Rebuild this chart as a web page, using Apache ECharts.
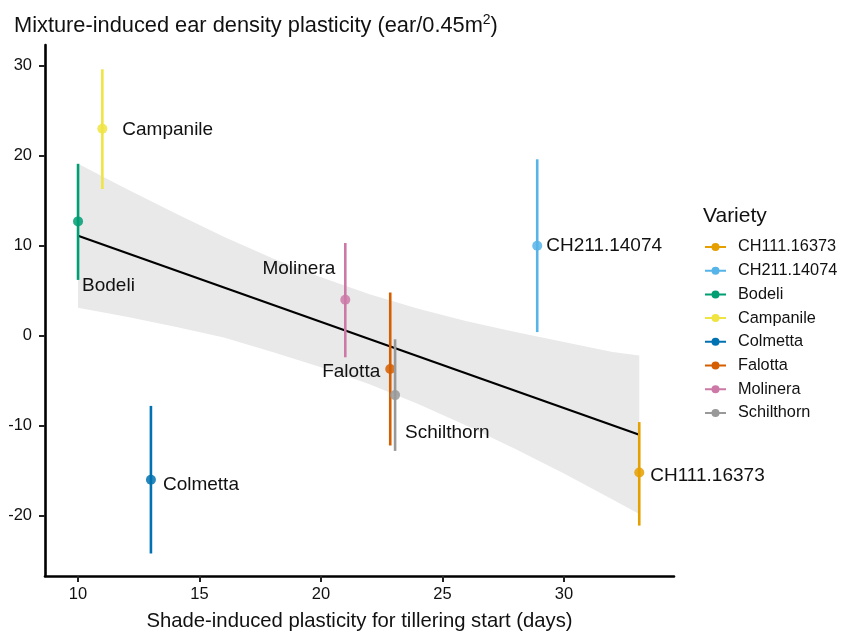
<!DOCTYPE html>
<html>
<head>
<meta charset="utf-8">
<script src="https://cdn.jsdelivr.net/npm/echarts@6/dist/echarts.min.js"></script>
<style>
html,body{margin:0;padding:0;background:#fff;}
#chart{width:851px;height:632px;}
</style>
</head>
<body>
<div id="chart"></div>
<script>
// ---- data ----
const varieties = ['CH111.16373','CH211.14074','Bodeli','Campanile','Colmetta','Falotta','Molinera','Schilthorn'];
const xVals  = [33.1, 28.9, 10.0, 11.0, 13.0, 22.85, 21.0, 23.05];
const yVals  = [-15.2, 10.0, 12.7, 23.0, -16.0, -3.7, 4.0, -6.6];
const yLow   = [-21.1, 0.4, 6.2, 16.3, -24.2, -12.2, -2.4, -12.8];
const yHigh  = [-9.6, 19.6, 19.1, 29.6, -7.8, 4.8, 10.3, -0.4];
const fitX = [10, 33.1];
const fitY = [11.1, -11.0];
const bandX     = [10, 12, 14, 16, 18, 20, 22, 24, 26, 28, 30, 32, 33.1];
const bandUpper = [19.1, 16.3, 13.6, 11.0, 8.6, 6.5, 4.6, 3.0, 1.6, 0.4, -0.7, -1.8, -2.2];
const bandLower = [3.1, 2.1, 1.0, -0.2, -1.8, -3.5, -5.4, -7.6, -10.0, -12.6, -15.3, -18.2, -19.8];
const xTicks = [10, 15, 20, 25, 30];
const yTicks = [-20, -10, 0, 10, 20, 30];

// ---- styles ----
const colors = ['#E69F00','#56B4E9','#009E73','#F0E442','#0072B2','#D55E00','#CC79A7','#999999'];
const labelPos = { // [dx, dy, align]
  'CH111.16373': [11, 3, 'left'],
  'CH211.14074': [9, 0, 'left'],
  'Bodeli': [4, 64, 'left'],
  'Campanile': [20, 1, 'left'],
  'Colmetta': [12, 5, 'left'],
  'Falotta': [-10, 3, 'right'],
  'Molinera': [-10, -31, 'right'],
  'Schilthorn': [10, 38, 'left']
};
const FONT = '"Liberation Sans", Arial, Helvetica, sans-serif';
const iconPath = 'path://M0,3H21V5H0Z M14.5,4A4,4 0 1 1 6.5,4A4,4 0 1 1 14.5,4Z';

const chart = echarts.init(document.getElementById('chart'), null, {renderer:'canvas'});

const series = [];
// confidence band
series.push({
  type: 'custom', name: 'band', silent: true, z: 1,
  data: [[bandX[0], bandUpper[0]]],
  renderItem: function (params, api) {
    const pts = [];
    for (let i = 0; i < bandX.length; i++) pts.push(api.coord([bandX[i], bandUpper[i]]));
    for (let i = bandX.length - 1; i >= 0; i--) pts.push(api.coord([bandX[i], bandLower[i]]));
    return {type: 'polygon', shape: {points: pts}, style: {fill: '#E9E9E9'}};
  }
});
// fit line
series.push({
  type: 'line', name: 'fit', silent: true, z: 2,
  data: fitX.map((x, i) => [x, fitY[i]]),
  showSymbol: false, symbol: 'none',
  lineStyle: {color: '#000', width: 2.2}
});
// varieties
varieties.forEach((v, i) => {
  series.push({
    type: 'custom', name: v, z: 3,
    itemStyle: {color: colors[i]},
    data: [[xVals[i], yVals[i], yLow[i], yHigh[i]]],
    renderItem: function (params, api) {
      const p = api.coord([api.value(0), api.value(1)]);
      const pl = api.coord([api.value(0), api.value(2)]);
      const ph = api.coord([api.value(0), api.value(3)]);
      const lp = labelPos[v];
      return {type: 'group', children: [
        {type: 'line', shape: {x1: pl[0], y1: pl[1], x2: ph[0], y2: ph[1]}, style: {stroke: colors[i], lineWidth: 2.6}},
        {type: 'circle', shape: {cx: p[0], cy: p[1], r: 5}, style: {fill: colors[i], opacity: 0.85}},
        {type: 'text', x: p[0] + lp[0], y: p[1] + lp[1], style: {text: v, fill: '#111', font: '19px ' + FONT, align: lp[2], verticalAlign: 'middle'}}
      ]};
    }
  });
});

chart.setOption({
  animation: false,
  backgroundColor: '#fff',
  title: {
    text: 'Mixture-induced ear density plasticity (ear/0.45m{sup|2})',
    left: 14, top: 13, padding: 0,
    textStyle: {fontFamily: FONT, fontSize: 21.8, fontWeight: 'normal', color: '#111',
      rich: {sup: {fontFamily: FONT, fontSize: 14, color: '#111', padding: [0, 0, 11, 0]}}}
  },
  legend: {
    orient: 'vertical', left: 705, top: 238, padding: 0,
    itemWidth: 21, itemHeight: 8, itemGap: 5.7,
    data: varieties.map(v => ({name: v, icon: iconPath})),
    textStyle: {fontFamily: FONT, fontSize: 16.3, color: '#111', lineHeight: 18, padding: [0, 0, 0, 7]}
  },
  graphic: [{
    type: 'text', left: 703, top: 206,
    style: {text: 'Variety', font: '21px ' + FONT, fill: '#111'}
  }],
  grid: {left: 45, right: 177, top: 45, bottom: 56, containLabel: false, outerBoundsMode: 'none'},
  xAxis: {
    type: 'value', min: 8.64, max: 34.53,
    name: 'Shade-induced plasticity for tillering start (days)',
    nameLocation: 'middle', nameGap: 35,
    nameTextStyle: {fontFamily: FONT, fontSize: 20.3, color: '#111'},
    axisLine: {show: true, onZero: false, lineStyle: {color: '#000', width: 2.6}},
    axisTick: {show: true, length: 6, lineStyle: {color: '#222', width: 2}, customValues: xTicks},
    axisLabel: {fontFamily: FONT, fontSize: 16.5, color: '#111', margin: 10, customValues: xTicks},
    splitLine: {show: false}
  },
  yAxis: {
    type: 'value', min: -26.7, max: 32.3,
    axisLine: {show: true, onZero: false, lineStyle: {color: '#000', width: 2.6}},
    axisTick: {show: true, length: 6, lineStyle: {color: '#222', width: 2}, customValues: yTicks},
    axisLabel: {fontFamily: FONT, fontSize: 16.5, color: '#111', margin: 13, customValues: yTicks},
    splitLine: {show: false}
  },
  series: series
});
</script>
</body>
</html>
